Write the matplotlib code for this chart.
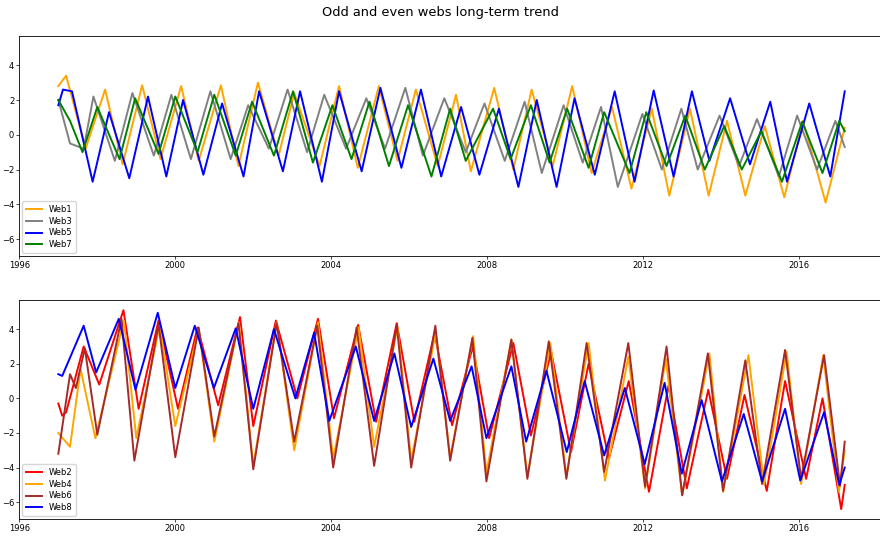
import matplotlib
matplotlib.use("Agg")
import matplotlib.pyplot as plt
from matplotlib.ticker import MultipleLocator, FormatStrFormatter

# values: (decimal year, value) at peaks / troughs

# ---- odd webs ----
web1_t = [1997.0, 1997.2, 1997.7, 1998.2, 1998.65, 1999.15, 1999.62, 2000.15, 2000.6, 2001.17,
          2001.62, 2002.12, 2002.65, 2003.05, 2003.7, 2004.2, 2004.68, 2005.22, 2005.7, 2006.17,
          2006.73, 2007.2, 2007.58, 2008.18, 2008.67, 2009.14, 2009.68, 2010.18, 2010.68, 2011.2,
          2011.7, 2012.22, 2012.67, 2013.2, 2013.68, 2014.15, 2014.62, 2015.12, 2015.62, 2016.1,
          2016.68, 2017.17]
web1_v = [2.8, 3.4, -0.8, 2.6, -1.7, 2.85, -1.4, 2.8, -1.5, 2.85,
          -1.8, 3.0, -1.2, 2.4, -1.8, 2.8, -1.9, 2.8, -1.5, 2.6,
          -1.8, 2.3, -2.1, 2.7, -2.0, 2.6, -1.8, 2.8, -2.2, 1.6,
          -3.1, 1.5, -3.5, 1.5, -3.5, 0.8, -3.5, 0.5, -3.6, 0.8,
          -3.9, 0.4]

web3_t = [1997.0, 1997.3, 1997.65, 1997.9, 1998.45, 1998.9, 1999.45, 1999.9, 2000.4, 2000.9,
          2001.42, 2001.87, 2002.4, 2002.88, 2003.38, 2003.82, 2004.38, 2004.9, 2005.38, 2005.9,
          2006.35, 2006.9, 2007.45, 2007.93, 2008.45, 2008.96, 2009.4, 2009.96, 2010.45, 2010.92,
          2011.35, 2011.98, 2012.48, 2012.98, 2013.4, 2013.96, 2014.46, 2014.92, 2015.48, 2015.95,
          2016.46, 2016.93, 2017.17]
web3_v = [2.0, -0.5, -0.8, 2.2, -1.5, 2.4, -1.2, 2.3, -1.4, 2.5,
          -1.4, 1.7, -0.8, 2.6, -1.0, 2.3, -0.8, 2.1, -0.8, 2.7,
          -1.2, 2.1, -1.0, 1.8, -1.5, 1.9, -2.2, 1.7, -1.6, 1.6,
          -3.0, 1.2, -2.0, 1.5, -2.0, 1.1, -1.8, 0.9, -2.4, 1.1,
          -2.0, 0.8, -0.7]

web5_t = [1997.0, 1997.12, 1997.35, 1997.88, 1998.3, 1998.82, 1999.3, 1999.77, 2000.2, 2000.72,
          2001.2, 2001.75, 2002.15, 2002.76, 2003.2, 2003.76, 2004.2, 2004.78, 2005.26, 2005.8,
          2006.3, 2006.82, 2007.33, 2007.8, 2008.3, 2008.8, 2009.27, 2009.78, 2010.24, 2010.76,
          2011.27, 2011.78, 2012.27, 2012.78, 2013.25, 2013.7, 2014.23, 2014.74, 2015.26, 2015.69,
          2016.26, 2016.8, 2017.17]
web5_v = [1.7, 2.6, 2.5, -2.7, 1.3, -2.5, 2.2, -2.4, 2.0, -2.3,
          1.8, -2.4, 2.5, -2.1, 2.5, -2.7, 2.5, -2.1, 2.7, -1.9,
          2.6, -2.4, 1.6, -2.3, 1.5, -3.0, 2.0, -3.0, 2.1, -2.3,
          2.5, -2.7, 2.55, -2.4, 2.5, -1.5, 2.1, -1.7, 1.9, -2.7,
          1.8, -2.4, 2.5]

web7_t = [1997.0, 1997.3, 1997.62, 1998.0, 1998.57, 1998.97, 1999.57, 2000.0, 2000.57, 2001.0,
          2001.55, 2001.97, 2002.53, 2003.02, 2003.53, 2004.03, 2004.52, 2004.98, 2005.48, 2005.97,
          2006.57, 2007.05, 2007.45, 2008.15, 2008.6, 2009.12, 2009.6, 2010.05, 2010.6, 2011.0,
          2011.65, 2012.08, 2012.6, 2013.08, 2013.58, 2014.08, 2014.53, 2015.03, 2015.56, 2016.08,
          2016.6, 2017.03, 2017.17]
web7_v = [2.0, 0.8, -1.0, 1.6, -1.4, 2.1, -1.1, 2.2, -1.0, 2.3,
          -1.2, 1.9, -1.2, 2.5, -1.6, 1.7, -1.4, 1.9, -1.8, 1.7,
          -2.4, 1.5, -1.5, 1.5, -1.4, 1.7, -1.6, 1.5, -1.9, 1.3,
          -2.2, 1.3, -1.8, 1.1, -2.0, 0.5, -2.0, 0.2, -2.7, 0.75,
          -2.2, 0.8, 0.2]

# ---- even webs ----
web2_t = [1997.0, 1997.1, 1997.2, 1997.65, 1998.05, 1998.67, 1999.06, 1999.57, 2000.07, 2000.57,
          2001.1, 2001.66, 2002.0, 2002.58, 2003.13, 2003.66, 2004.07, 2004.69, 2005.15, 2005.68,
          2006.13, 2006.65, 2007.1, 2007.63, 2008.05, 2008.67, 2009.12, 2009.64, 2010.15, 2010.6,
          2011.12, 2011.63, 2012.15, 2012.65, 2013.12, 2013.67, 2014.15, 2014.6, 2015.17, 2015.64,
          2016.18, 2016.6, 2017.08, 2017.17]
web2_v = [-0.3, -1.0, -0.8, 3.0, 0.8, 5.1, -0.6, 4.5, -0.6, 4.1,
          -0.4, 4.7, -1.6, 4.5, 0.0, 4.6, -1.15, 4.25, -1.35, 4.35,
          -1.35, 3.8, -1.55, 3.0, -2.3, 3.2, -2.15, 2.7, -3.1, 2.0,
          -3.5, 1.0, -5.4, 0.75, -5.2, 0.5, -4.65, 0.2, -5.35, 1.0,
          -4.65, 0.0, -6.4, -5.0]

web4_t = [1997.0, 1997.3, 1997.57, 1997.95, 1998.68, 1999.0, 1999.6, 2000.0, 2000.6, 2001.0,
          2001.63, 2002.0, 2002.6, 2003.05, 2003.66, 2004.05, 2004.7, 2005.1, 2005.7, 2006.05,
          2006.68, 2007.05, 2007.64, 2007.98, 2008.62, 2009.03, 2009.62, 2010.03, 2010.6, 2011.02,
          2011.62, 2012.05, 2012.58, 2013.0, 2013.7, 2014.05, 2014.7, 2015.1, 2015.68, 2016.05,
          2016.62, 2017.02, 2017.17]
web4_v = [-2.0, -2.8, 1.7, -2.3, 4.5, -2.3, 4.2, -1.6, 4.0, -2.5,
          4.4, -3.9, 4.4, -3.0, 4.4, -3.5, 4.1, -2.8, 4.1, -3.6,
          3.8, -3.4, 3.6, -4.3, 3.4, -4.5, 3.2, -4.5, 3.2, -4.75,
          2.4, -5.2, 2.3, -5.6, 2.6, -5.4, 2.5, -4.95, 2.7, -4.95,
          2.5, -5.4, -3.0]

web6_t = [1997.0, 1997.3, 1997.45, 1997.68, 1998.0, 1998.62, 1998.95, 1999.57, 2000.0, 2000.6,
          2001.0, 2001.62, 2002.0, 2002.6, 2003.05, 2003.64, 2004.05, 2004.65, 2005.1, 2005.68,
          2006.05, 2006.67, 2007.05, 2007.62, 2007.98, 2008.62, 2009.03, 2009.58, 2010.03, 2010.55,
          2011.0, 2011.62, 2012.05, 2012.6, 2013.0, 2013.66, 2014.05, 2014.62, 2015.05, 2015.64,
          2016.05, 2016.64, 2017.05, 2017.17]
web6_v = [-3.2, 1.4, 0.6, 2.9, -2.1, 4.6, -3.6, 4.3, -3.4, 4.1,
          -2.2, 4.35, -4.1, 4.35, -2.5, 4.2, -4.0, 4.1, -3.9, 4.25,
          -4.0, 4.2, -3.6, 3.5, -4.8, 3.4, -4.65, 3.3, -4.65, 3.2,
          -4.25, 3.2, -5.1, 3.0, -5.6, 2.6, -5.35, 2.2, -4.95, 2.8,
          -4.65, 2.5, -5.05, -2.5]

web8_t = [1997.0, 1997.1, 1997.65, 1997.97, 1998.55, 1998.98, 1999.55, 2000.0, 2000.5, 2000.99,
          2001.55, 2002.0, 2002.53, 2003.08, 2003.56, 2003.95, 2004.63, 2005.1, 2005.62, 2006.05,
          2006.62, 2007.05, 2007.6, 2007.98, 2008.62, 2009.0, 2009.52, 2010.04, 2010.5, 2011.0,
          2011.53, 2012.04, 2012.55, 2012.99, 2013.5, 2014.02, 2014.58, 2015.05, 2015.64, 2016.03,
          2016.64, 2017.03, 2017.17]
web8_v = [1.4, 1.3, 4.2, 1.5, 4.6, 0.5, 4.95, 0.6, 4.2, 0.6,
          4.05, -0.6, 4.0, 0.0, 3.8, -1.3, 3.0, -1.3, 2.6, -1.65,
          2.3, -1.3, 1.85, -2.3, 1.85, -2.5, 1.6, -3.1, 1.0, -3.3,
          0.6, -3.8, 0.9, -4.35, -0.1, -4.8, -0.9, -4.8, -0.6, -4.75,
          -0.8, -5.0, -4.0]

odd = [("Web1", web1_t, web1_v, "orange"), ("Web3", web3_t, web3_v, "grey"),
       ("Web5", web5_t, web5_v, "blue"), ("Web7", web7_t, web7_v, "green")]
even = [("Web2", web2_t, web2_v, "red"), ("Web4", web4_t, web4_v, "orange"),
        ("Web6", web6_t, web6_v, "brown"), ("Web8", web8_t, web8_v, "blue")]

fig = plt.figure(figsize=(8.8, 5.39), dpi=100)
ax1 = fig.add_axes([0.0216, 0.525, 0.983, 0.408])
ax2 = fig.add_axes([0.0216, 0.037, 0.983, 0.406], sharey=ax1)

for ax, group in [(ax1, odd), (ax2, even)]:
    for name, t, v, c in group:
        ax.plot(t, v, color=c, lw=1.4, label=name)
    ax.xaxis.set_major_locator(MultipleLocator(4))
    ax.xaxis.set_major_formatter(FormatStrFormatter("%d"))
    ax.yaxis.set_major_locator(MultipleLocator(2))
    ax.tick_params(labelsize=6, length=2, width=0.5, pad=1.5)
    for s in ax.spines.values():
        s.set_linewidth(0.6)
    ax.legend(loc="lower left", fontsize=6, borderpad=0.4, labelspacing=0.35,
              handlelength=2.0, borderaxespad=0.4)

fig.suptitle("Odd and even webs long-term trend", fontsize=9.4, y=0.988)

fig.savefig("out.png", dpi=100)
